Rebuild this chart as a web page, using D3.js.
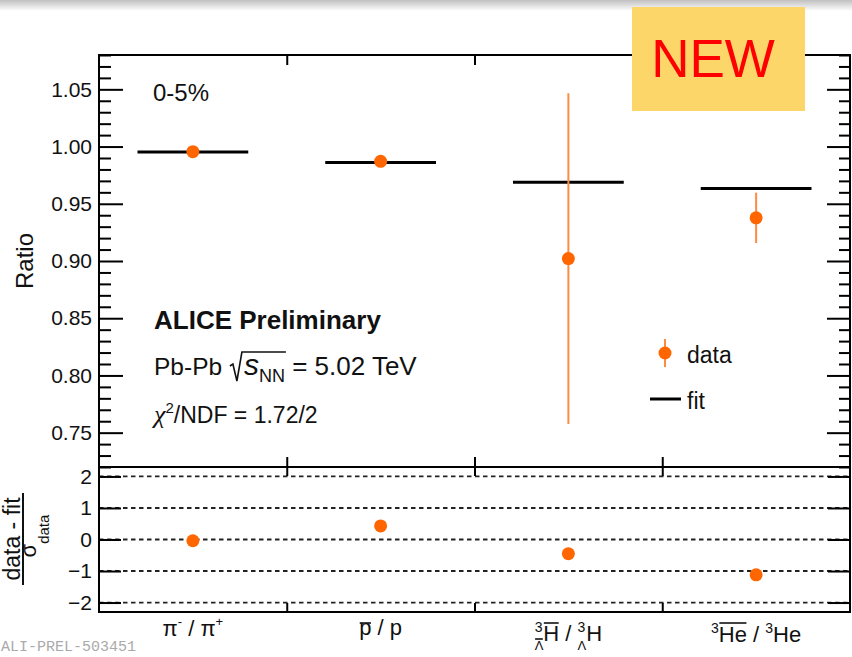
<!DOCTYPE html>
<html><head><meta charset="utf-8">
<script src="https://cdn.jsdelivr.net/npm/d3@7"></script>
<style>body{margin:0;background:#fff}svg{display:block}text{white-space:pre}</style>
</head><body>
<svg id="c" width="852" height="657"></svg>
<script>
// ---------- data ----------
const categories = ["pi", "p", "hypertriton", "helium3"];
const ratioValues = [0.9955, 0.9871, 0.9021, 0.9377];
const ratioErrors = [0.0015, 0.0015, 0.1445, 0.0220];
const fitValues = [0.9953, 0.9860, 0.9688, 0.9633];
const pullValues = [-0.04, 0.43, -0.45, -1.12];
const ratioTicks = [0.75, 0.80, 0.85, 0.90, 0.95, 1.00, 1.05];
const pullTicks = [-2, -1, 0, 1, 2];

// ---------- layout ----------
const L = 99, R = 850, T = 55, M = 467, B = 612;
const FONT = "'Liberation Sans', Arial, Helvetica, sans-serif";
const ORANGE = "#ff6600", ERRC = "#ff8a40", INK = "#111";

const svg = d3.select("#c").style("font-family", FONT);

// top shading strip
const defs = svg.append("defs");
const gr = defs.append("linearGradient").attr("id", "shade").attr("x1", 0).attr("x2", 0).attr("y1", 0).attr("y2", 1);
gr.append("stop").attr("offset", 0).attr("stop-color", "#c0c0c0");
gr.append("stop").attr("offset", 1).attr("stop-color", "#ffffff");
svg.append("rect").attr("x", 0).attr("y", 0).attr("width", 852).attr("height", 11).attr("fill", "url(#shade)");

const x = d3.scaleLinear().domain([-0.5, categories.length - 0.5]).range([L, R]);
const yTop = d3.scaleLinear().domain([0.72, 1.08]).range([M, T]);
const yBot = d3.scaleLinear().domain([-2.3, 2.3]).range([B, M]);

const minorTop = d3.range(72, 109).map(d => d / 100).filter(v => !ratioTicks.some(t => Math.abs(t - v) < 1e-6));
const bounds = d3.range(0.5, categories.length - 0.5, 1);

function styleAxis(g, fs) {
  g.select(".domain").remove();
  g.selectAll("line").attr("stroke", "#000").attr("stroke-width", 2);
  g.selectAll("text").attr("font-size", fs).attr("fill", INK).attr("font-family", FONT);
}

// ---------- bottom panel dashed lines ----------
svg.append("g").selectAll("line").data(pullTicks).join("line")
  .attr("x1", L).attr("x2", R).attr("y1", d => yBot(d)).attr("y2", d => yBot(d))
  .attr("stroke", "#222").attr("stroke-width", 1.8).attr("stroke-dasharray", "4.5,3.5");

// ---------- top panel axes ----------
svg.append("g").attr("transform", `translate(${L},0)`)
  .call(d3.axisLeft(yTop).tickValues(ratioTicks).tickFormat(d3.format(".2f")).tickSizeInner(-24).tickSizeOuter(0).tickPadding(7))
  .call(g => styleAxis(g, 21));
svg.append("g").attr("transform", `translate(${L},0)`)
  .call(d3.axisLeft(yTop).tickValues(minorTop).tickFormat("").tickSizeInner(-12).tickSizeOuter(0))
  .call(g => styleAxis(g, 21));
svg.append("g").attr("transform", `translate(${R},0)`)
  .call(d3.axisRight(yTop).tickValues(ratioTicks).tickFormat("").tickSizeInner(-23).tickSizeOuter(0))
  .call(g => styleAxis(g, 21));
svg.append("g").attr("transform", `translate(${R},0)`)
  .call(d3.axisRight(yTop).tickValues(minorTop).tickFormat("").tickSizeInner(-11).tickSizeOuter(0))
  .call(g => styleAxis(g, 21));
svg.append("g").attr("transform", `translate(0,${T})`)
  .call(d3.axisBottom(x).tickValues(bounds).tickFormat("").tickSizeInner(10).tickSizeOuter(0))
  .call(g => styleAxis(g, 21));
svg.append("g").attr("transform", `translate(0,${M})`)
  .call(d3.axisTop(x).tickValues(bounds).tickFormat("").tickSizeInner(10).tickSizeOuter(0))
  .call(g => styleAxis(g, 21));

// ---------- bottom panel axes ----------
svg.append("g").attr("transform", `translate(${L},0)`)
  .call(d3.axisLeft(yBot).tickValues(pullTicks).tickFormat(d3.format("d")).tickSizeInner(-22).tickSizeOuter(0).tickPadding(7))
  .call(g => styleAxis(g, 21));
svg.append("g").attr("transform", `translate(${R},0)`)
  .call(d3.axisRight(yBot).tickValues(pullTicks).tickFormat("").tickSizeInner(-22).tickSizeOuter(0))
  .call(g => styleAxis(g, 21));
svg.append("g").attr("transform", `translate(0,${M})`)
  .call(d3.axisBottom(x).tickValues(bounds).tickFormat("").tickSizeInner(9).tickSizeOuter(0))
  .call(g => styleAxis(g, 21));
svg.append("g").attr("transform", `translate(0,${B})`)
  .call(d3.axisTop(x).tickValues(bounds).tickFormat("").tickSizeInner(9).tickSizeOuter(0))
  .call(g => styleAxis(g, 21));

// frames
svg.append("rect").attr("x", L).attr("y", T).attr("width", R - L).attr("height", M - T)
  .attr("fill", "none").attr("stroke", "#000").attr("stroke-width", 2);
svg.append("rect").attr("x", L).attr("y", M).attr("width", R - L).attr("height", B - M)
  .attr("fill", "none").attr("stroke", "#000").attr("stroke-width", 2);

// ---------- fit lines ----------
const half = 0.295;
svg.append("g").selectAll("line").data(fitValues).join("line")
  .attr("x1", (d, i) => x(i - half)).attr("x2", (d, i) => x(i + half))
  .attr("y1", d => yTop(d)).attr("y2", d => yTop(d))
  .attr("stroke", "#000").attr("stroke-width", 3);

// ---------- data ----------
svg.append("g").selectAll("line").data(ratioValues).join("line")
  .attr("x1", (d, i) => x(i)).attr("x2", (d, i) => x(i))
  .attr("y1", (d, i) => yTop(d + ratioErrors[i])).attr("y2", (d, i) => yTop(d - ratioErrors[i]))
  .attr("stroke", ERRC).attr("stroke-width", 2);
svg.append("g").selectAll("circle").data(ratioValues).join("circle")
  .attr("cx", (d, i) => x(i)).attr("cy", d => yTop(d)).attr("r", 6.5).attr("fill", ORANGE);
svg.append("g").selectAll("circle").data(pullValues).join("circle")
  .attr("cx", (d, i) => x(i)).attr("cy", d => yBot(d)).attr("r", 6.5).attr("fill", ORANGE);

// ---------- rich text helper ----------
function rich(x0, baseline, pieces, anchor) {
  const g = svg.append("g");
  let cx = 0;
  const placed = pieces.map(p => {
    const el = g.append("text").attr("xml:space", "preserve").style("white-space", "pre").text(p.t)
      .attr("font-size", p.s).attr("fill", INK)
      .attr("font-family", p.fam || FONT)
      .attr("font-style", p.it ? "italic" : "normal")
      .attr("font-weight", p.b ? "bold" : "normal");
    const w = p.w != null ? p.w : el.node().getComputedTextLength();
    const rec = { el, x: cx, w, p };
    if (!p.na) cx += w;
    return rec;
  });
  const off = anchor === "middle" ? x0 - cx / 2 : x0;
  placed.forEach(r => {
    r.x += off;
    r.el.attr("x", r.x).attr("y", baseline + (r.p.dy || 0));
    if (r.p.over) {
      const oy = baseline + (r.p.dy || 0) - r.p.over;
      g.append("line").attr("x1", r.x + 0.5).attr("x2", r.x + r.w - 0.5).attr("y1", oy).attr("y2", oy)
        .attr("stroke", INK).attr("stroke-width", 1.6);
    }
  });
  return { g, placed };
}

// ---------- x category labels ----------
rich(x(0), 636, [
  { t: "π", s: 22 }, { t: "-", s: 13, dy: -10 }, { t: " / ", s: 22 }, { t: "π", s: 22 }, { t: "+", s: 13, dy: -10 }
], "middle");
rich(x(1), 635, [
  { t: "p", s: 22, over: 12 }, { t: " / p", s: 22 }
], "middle");
rich(x(2), 641, [
  { t: "3", s: 14, dy: -9, na: true }, { t: "Λ", s: 13, dy: 9, over: 11 }, { t: "H", s: 22, over: 18 },
  { t: " / ", s: 22 }, { t: "3", s: 14, dy: -9, na: true }, { t: "Λ", s: 13, dy: 9 }, { t: "H", s: 22 }
], "middle");
rich(x(3), 642, [
  { t: "3", s: 14, dy: -9 }, { t: "He", s: 22, over: 19 }, { t: " / ", s: 22 }, { t: "3", s: 14, dy: -9 }, { t: "He", s: 22 }
], "middle");

// ---------- annotations ----------
svg.append("text").attr("x", 153).attr("y", 101).attr("font-size", 24).attr("fill", INK).text("0-5%");
svg.append("text").attr("x", 154).attr("y", 329).attr("font-size", 26).attr("font-weight", "bold").attr("fill", INK).text("ALICE Preliminary");

const pb = rich(154, 375, [
  { t: "Pb-Pb ", s: 24.5 }, { t: "", s: 24, w: 15 }, { t: "s", s: 30, it: true }, { t: "NN", s: 18, dy: 7 }, { t: " = 5.02 TeV", s: 26 }
]);
{
  const rx = pb.placed[1].x, endx = pb.placed[3].x + pb.placed[3].w + 1, topY = 352;
  pb.g.append("path")
    .attr("d", `M${rx + 1},${366} L${rx + 4},${364} L${rx + 8},${381} L${rx + 13},${topY} L${endx},${topY}`)
    .attr("fill", "none").attr("stroke", INK).attr("stroke-width", 1.6);
}
rich(154, 423, [
  { t: "χ", s: 26, it: true, fam: "'Liberation Serif', serif" }, { t: "2", s: 15, dy: -10 }, { t: "/NDF = 1.72/2", s: 23 }
]);

// ---------- legend ----------
svg.append("line").attr("x1", 665).attr("x2", 665).attr("y1", 339).attr("y2", 367).attr("stroke", ERRC).attr("stroke-width", 2);
svg.append("circle").attr("cx", 665).attr("cy", 353).attr("r", 6.5).attr("fill", ORANGE);
svg.append("text").attr("x", 687).attr("y", 363).attr("font-size", 23).attr("fill", INK).text("data");
svg.append("line").attr("x1", 650).attr("x2", 681).attr("y1", 399).attr("y2", 399).attr("stroke", "#000").attr("stroke-width", 3);
svg.append("text").attr("x", 687).attr("y", 409).attr("font-size", 23).attr("fill", INK).text("fit");

// ---------- axis titles ----------
svg.append("text").attr("transform", "translate(33,261) rotate(-90)").attr("text-anchor", "middle")
  .attr("font-size", 24).attr("fill", INK).text("Ratio");
{
  const g = svg.append("g").attr("transform", "translate(0,539) rotate(-90)");
  g.append("text").attr("x", 0).attr("y", 20).attr("text-anchor", "middle").attr("font-size", 23).attr("fill", INK).text("data - fit");
  g.append("line").attr("x1", -46).attr("x2", 46).attr("y1", 23).attr("y2", 23).attr("stroke", INK).attr("stroke-width", 2);
  const t = g.append("text").attr("x", 3).attr("y", 36).attr("text-anchor", "middle").attr("font-size", 22).attr("fill", INK);
  t.append("tspan").text("σ");
  t.append("tspan").attr("font-size", 15).attr("dy", 13).text("data");
}

// ---------- NEW badge ----------
svg.append("rect").attr("x", 632).attr("y", 7).attr("width", 173).attr("height", 104).attr("fill", "#fdd66a");
svg.append("text").attr("x", 713).attr("y", 77).attr("text-anchor", "middle").attr("font-size", 53).attr("fill", "#ff0000").text("NEW");

// ---------- watermark ----------
svg.append("text").attr("x", 1).attr("y", 651).attr("font-size", 15).attr("font-family", "'Liberation Mono', monospace")
  .attr("fill", "#aaaaaa").text("ALI-PREL-503451");
</script>
</body></html>
